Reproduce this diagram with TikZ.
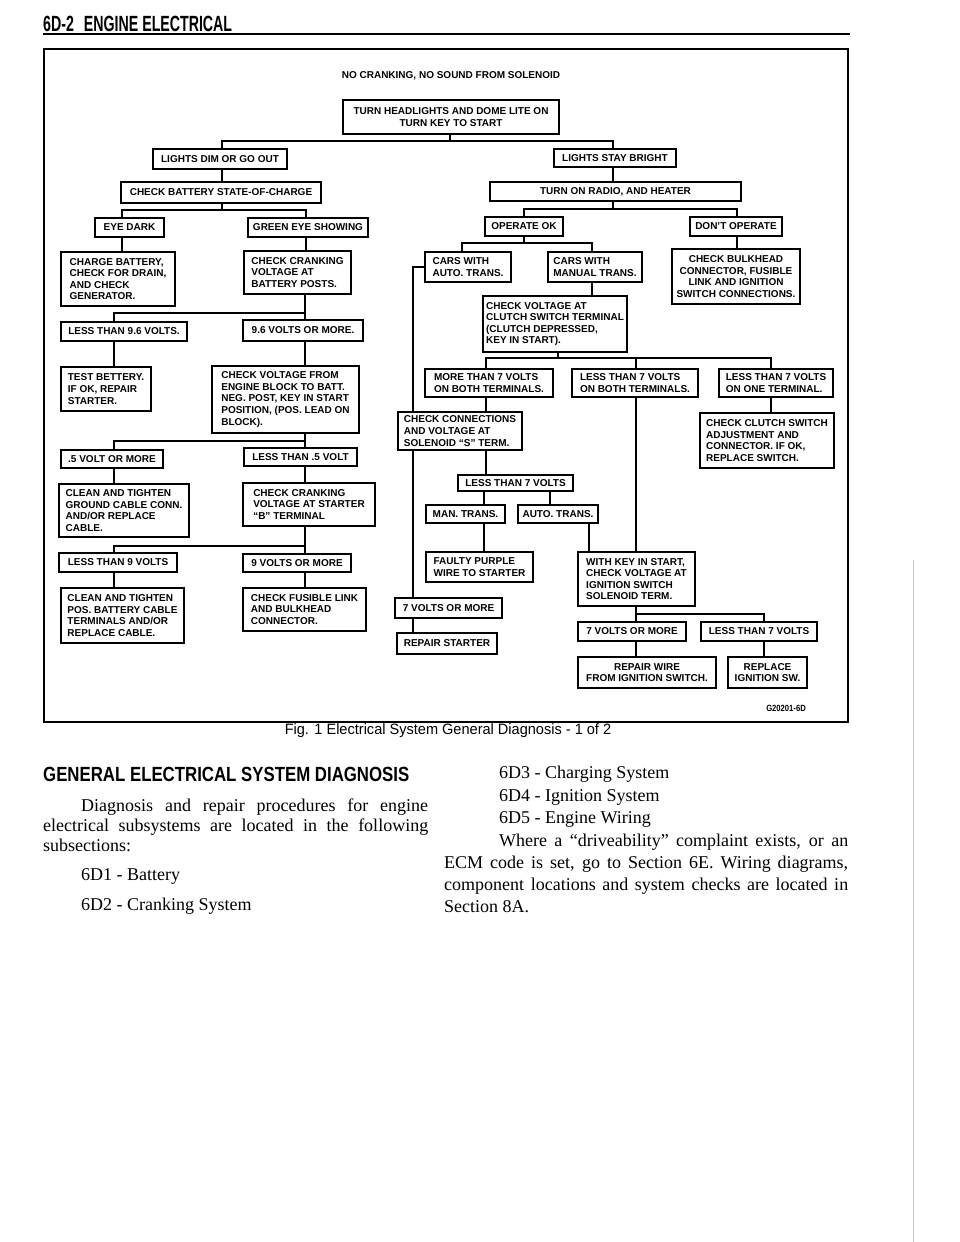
\documentclass[tikz,border=0pt]{standalone}
\usepackage{fontspec}
\setmainfont{Liberation Serif}
\newfontfamily\bsans{Liberation Sans}
\newfontfamily\hsans[FakeStretch=0.645]{Liberation Sans}
\newfontfamily\gsans[FakeStretch=0.82]{Liberation Sans}
\newfontfamily\csans[FakeStretch=0.97]{Liberation Sans}
\newfontfamily\ssans[FakeStretch=0.85]{Liberation Sans}
\newcommand\BX[7]{%
  \pgfmathsetmacro\bxw{#5-#3}\pgfmathsetmacro\bxh{#6-#4}%
  \pgfmathsetmacro\bxx{(#3+#5)/2}\pgfmathsetmacro\bxy{(#4+#6)/2}%
  \node[box,align=#2,minimum width=\bxw pt,minimum height=\bxh pt] (#1) at (\bxx,\bxy) {#7};}
\newcommand\bodyfont{\rmfamily\fontsize{18}{22}\selectfont}
\newcommand\JL[5]{\node[anchor=base west,inner sep=0pt,font=\bodyfont] (#1) at (#2,#3) {\makebox[#4pt][s]{#5}};}
\newcommand\PL[4]{\node[anchor=base west,inner sep=0pt,font=\bodyfont] (#1) at (#2,#3) {#4};}
\begin{document}
\begin{tikzpicture}[x=1pt,y=-1pt,
  box/.style={draw,line width=1.7pt,fill=white,inner xsep=3pt,inner ysep=1pt,
    font=\bsans\bfseries\fontsize{10}{11.6}\selectfont},
  wire/.style={line width=1.6pt}]
\useasboundingbox (0,0) rectangle (960,1242);
\fill[white] (0,0) rectangle (960,1242);
% header
\node[anchor=base west,inner sep=0pt,font=\hsans\bfseries\fontsize{22}{22}\selectfont] (hdr) at (43,31) {6D-2\hspace{10pt}ENGINE ELECTRICAL};
\draw[line width=1.8pt] (43,34) -- (850,34);
% frame
\draw[line width=2pt] (44,49) rectangle (848,722);
\node[font=\bsans\bfseries\fontsize{10}{12}\selectfont,inner sep=0pt] (title) at (451,76) {NO CRANKING, NO SOUND FROM SOLENOID};
% boxes
\BX{thl}{center}{343}{100}{559}{134}{TURN HEADLIGHTS AND DOME LITE ON\\TURN KEY TO START}
\BX{ldim}{center}{153}{149}{287}{169}{LIGHTS DIM OR GO OUT}
\BX{lsb}{center}{554}{149}{676}{167}{LIGHTS STAY BRIGHT}
\BX{cbat}{center}{121}{182}{321}{203}{CHECK BATTERY STATE-OF-CHARGE}
\BX{radio}{center}{490}{182}{741}{201}{TURN ON RADIO, AND HEATER}
\BX{eyed}{center}{95}{218}{164}{237}{EYE DARK}
\BX{green}{center}{248}{218}{368}{237}{GREEN EYE SHOWING}
\BX{charge}{left}{61}{252}{175}{306}{CHARGE BATTERY,\\CHECK FOR DRAIN,\\AND CHECK\\GENERATOR.}
\BX{cck}{left}{244}{251}{351}{294}{CHECK CRANKING\\VOLTAGE AT\\BATTERY POSTS.}
\BX{lt96}{center}{61}{322}{187}{341}{LESS THAN 9.6 VOLTS.}
\BX{v96}{center}{243}{320}{363}{341}{9.6 VOLTS OR MORE.}
\BX{test}{left}{61}{367}{151}{411}{TEST BETTERY.\\IF OK, REPAIR\\STARTER.}
\BX{cvf}{left}{212}{366}{359}{433}{CHECK VOLTAGE FROM\\ENGINE BLOCK TO BATT.\\NEG. POST, KEY IN START\\POSITION, (POS. LEAD ON\\BLOCK).}
\BX{v05}{center}{61}{450}{163}{468}{.5 VOLT OR MORE}
\BX{lt05}{center}{244}{448}{357}{466}{LESS THAN .5 VOLT}
\BX{clean1}{left}{59}{484}{189}{537}{CLEAN AND TIGHTEN\\GROUND CABLE CONN.\\AND/OR REPLACE\\CABLE.}
\BX{ccs}{left}{243}{483}{375}{526}{CHECK CRANKING\\VOLTAGE AT STARTER\\“B” TERMINAL}
\BX{lt9}{center}{59}{553}{177}{572}{LESS THAN 9 VOLTS}
\BX{v9}{center}{243}{554}{351}{572}{9 VOLTS OR MORE}
\BX{clean2}{left}{61}{588}{184}{643}{CLEAN AND TIGHTEN\\POS. BATTERY CABLE\\TERMINALS AND/OR\\REPLACE CABLE.}
\BX{cfl}{left}{243}{588}{366}{631}{CHECK FUSIBLE LINK\\AND BULKHEAD\\CONNECTOR.}
\BX{opok}{center}{485}{217}{563}{236}{OPERATE OK}
\BX{dont}{center}{690}{217}{782}{236}{DON’T OPERATE}
\BX{bulk}{center}{672}{249}{800}{304}{CHECK BULKHEAD\\CONNECTOR, FUSIBLE\\LINK AND IGNITION\\SWITCH CONNECTIONS.}
\BX{auto1}{left}{425}{252}{511}{282}{CARS WITH\\AUTO. TRANS.}
\BX{man1}{left}{548}{252}{642}{282}{CARS WITH\\MANUAL TRANS.}
\BX{clutch}{left}{483}{296}{627}{352}{CHECK VOLTAGE AT\\CLUTCH SWITCH TERMINAL\\(CLUTCH DEPRESSED,\\KEY IN START).}
\BX{more7}{left}{425}{369}{553}{397}{MORE THAN 7 VOLTS\\ON BOTH TERMINALS.}
\BX{lt7both}{left}{572}{369}{698}{397}{LESS THAN 7 VOLTS\\ON BOTH TERMINALS.}
\BX{lt7one}{left}{719}{369}{833}{397}{LESS THAN 7 VOLTS\\ON ONE TERMINAL.}
\BX{ccon}{left}{398}{412}{522}{450}{CHECK CONNECTIONS\\AND VOLTAGE AT\\SOLENOID “S” TERM.}
\BX{cclutch}{left}{700}{413}{834}{468}{CHECK CLUTCH SWITCH\\ADJUSTMENT AND\\CONNECTOR. IF OK,\\REPLACE SWITCH.}
\BX{lt7m}{center}{458}{475}{573}{491}{LESS THAN 7 VOLTS}
\BX{man2}{center}{426}{505}{505}{523}{MAN. TRANS.}
\BX{auto2}{center}{518}{505}{598}{523}{AUTO. TRANS.}
\BX{faulty}{left}{426}{552}{533}{582}{FAULTY PURPLE\\WIRE TO STARTER}
\BX{withkey}{left}{578}{552}{695}{606}{WITH KEY IN START,\\CHECK VOLTAGE AT\\IGNITION SWITCH\\SOLENOID TERM.}
\BX{v7l}{center}{395}{598}{502}{618}{7 VOLTS OR MORE}
\BX{repst}{center}{397}{633}{497}{654}{REPAIR STARTER}
\BX{v7r}{center}{578}{622}{686}{641}{7 VOLTS OR MORE}
\BX{lt7r}{center}{701}{622}{817}{641}{LESS THAN 7 VOLTS}
\BX{repw}{center}{578}{657}{716}{688}{REPAIR WIRE\\FROM IGNITION SWITCH.}
\BX{repl}{center}{728}{657}{807}{688}{REPLACE\\IGNITION SW.}
% connectors left
\coordinate (a1) at (450,141); \coordinate (a1l) at (222,141); \coordinate (a1r) at (613,141);
\draw[wire] (thl.south -| a1) -- (a1);
\draw[wire] (ldim.north -| a1l) -- (a1l) -- (a1r) -- (lsb.north -| a1r);
\draw[wire] (ldim.south -| a1l) -- (cbat.north -| a1l);
\coordinate (a2) at (222,210); \coordinate (a2l) at (122,210); \coordinate (a2r) at (306,210);
\draw[wire] (cbat.south -| a2) -- (a2);
\draw[wire] (eyed.north -| a2l) -- (a2l) -- (a2r) -- (green.north -| a2r);
\draw[wire] (eyed.south -| a2l) -- (charge.north -| a2l);
\draw[wire] (green.south -| a2r) -- (cck.north -| a2r);
\coordinate (a3l) at (114,313); \coordinate (a3r) at (305,313);
\draw[wire] (cck.south -| a3r) -- (a3r) -- (a3l) -- (lt96.north -| a3l);
\draw[wire] (a3r) -- (v96.north -| a3r);
\draw[wire] (lt96.south -| a3l) -- (test.north -| a3l);
\draw[wire] (v96.south -| a3r) -- (cvf.north -| a3r);
\coordinate (a4l) at (114,441); \coordinate (a4r) at (305,441);
\draw[wire] (cvf.south -| a4r) -- (a4r) -- (a4l) -- (v05.north -| a4l);
\draw[wire] (a4r) -- (lt05.north -| a4r);
\draw[wire] (v05.south -| a4l) -- (clean1.north -| a4l);
\draw[wire] (lt05.south -| a4r) -- (ccs.north -| a4r);
\coordinate (a5l) at (114,546); \coordinate (a5r) at (305,546);
\draw[wire] (ccs.south -| a5r) -- (a5r) -- (a5l) -- (lt9.north -| a5l);
\draw[wire] (a5r) -- (v9.north -| a5r);
\draw[wire] (lt9.south -| a5l) -- (clean2.north -| a5l);
\draw[wire] (v9.south -| a5r) -- (cfl.north -| a5r);
% connectors right
\draw[wire] (lsb.south -| a1r) -- (radio.north -| a1r);
\coordinate (b1) at (613,209); \coordinate (b1l) at (524,209); \coordinate (b1r) at (737,209);
\draw[wire] (radio.south -| b1) -- (b1);
\draw[wire] (opok.north -| b1l) -- (b1l) -- (b1r) -- (dont.north -| b1r);
\draw[wire] (dont.south -| b1r) -- (bulk.north -| b1r);
\coordinate (b2) at (524,243); \coordinate (b2l) at (462,243); \coordinate (b2r) at (592,243);
\draw[wire] (opok.south -| b2) -- (b2);
\draw[wire] (auto1.north -| b2l) -- (b2l) -- (b2r) -- (man1.north -| b2r);
\draw[wire] (man1.south -| b2r) -- (clutch.north -| b2r);
\coordinate (b3) at (558,358); \coordinate (b3l) at (486,358); \coordinate (b3m) at (636,358); \coordinate (b3r) at (771,358);
\draw[wire] (clutch.south -| b3) -- (b3);
\draw[wire] (more7.north -| b3l) -- (b3l) -- (b3r) -- (lt7one.north -| b3r);
\draw[wire] (b3m) -- (lt7both.north -| b3m);
\draw[wire] (more7.south -| b3l) -- (ccon.north -| b3l);
\draw[wire] (lt7one.south -| b3r) -- (cclutch.north -| b3r);
\draw[wire] (lt7both.south -| b3m) -- (withkey.north -| b3m);
\coordinate (xq) at (413,0);
\draw[wire] (auto1.west) -| (ccon.north -| xq);
\draw[wire] (ccon.south -| xq) -- (v7l.north -| xq);
\draw[wire] (v7l.south -| xq) -- (repst.north -| xq);
\draw[wire] (ccon.south -| b3l) -- (lt7m.north -| b3l);
\coordinate (xm) at (484,0); \coordinate (xa) at (550,0); \coordinate (xk) at (589,0);
\draw[wire] (lt7m.south -| xm) -- (man2.north -| xm);
\draw[wire] (lt7m.south -| xa) -- (auto2.north -| xa);
\draw[wire] (man2.south -| xm) -- (faulty.north -| xm);
\draw[wire] (auto2.south -| xk) -- (withkey.north -| xk);
\coordinate (c1) at (636,614); \coordinate (c1r) at (764,614);
\draw[wire] (withkey.south -| c1) -- (c1) -- (c1r) -- (lt7r.north -| c1r);
\draw[wire] (c1) -- (v7r.north -| c1);
\draw[wire] (v7r.south -| c1) -- (repw.north -| c1);
\draw[wire] (lt7r.south -| c1r) -- (repl.north -| c1r);
% figure id and caption
\node[anchor=east,inner sep=0pt,font=\ssans\bfseries\fontsize{9}{10}\selectfont] (fid) at (806,708) {G20201-6D};
\node[inner sep=0pt,font=\csans\fontsize{15}{17}\selectfont] (cap) at (448,731) {Fig. 1 Electrical System General Diagnosis - 1 of 2};
% page edge
\draw[gray!45,line width=0.6pt] (913,560) -- (913,1242);
% body text
\node[anchor=base west,inner sep=0pt,font=\gsans\bfseries\fontsize{20.5}{22}\selectfont] (sec) at (43,781) {GENERAL ELECTRICAL SYSTEM DIAGNOSIS};
\JL{l1}{81}{811}{347}{Diagnosis and repair procedures for engine}
\JL{l2}{43}{831}{385}{electrical subsystems are located in the following}
\PL{l3}{43}{851}{subsections:}
\PL{l4}{81}{880}{6D1 - Battery}
\PL{l5}{81}{910}{6D2 - Cranking System}
\PL{r1}{499}{778}{6D3 - Charging System}
\PL{r2}{499}{801}{6D4 - Ignition System}
\PL{r3}{499}{823}{6D5 - Engine Wiring}
\JL{r4}{499}{846}{349}{Where a “driveability” complaint exists, or an}
\JL{r5}{444}{868}{404}{ECM code is set, go to Section 6E. Wiring diagrams,}
\JL{r6}{444}{890}{404}{component locations and system checks are located in}
\PL{r7}{444}{912}{Section 8A.}
\end{tikzpicture}
\end{document}
